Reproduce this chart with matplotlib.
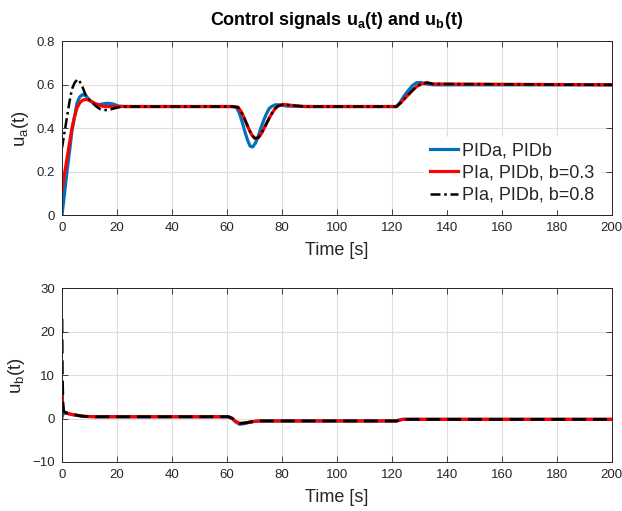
import matplotlib
matplotlib.use("Agg")
import matplotlib.pyplot as plt

plt.rcParams["font.family"] = ["Liberation Sans", "DejaVu Sans"]
plt.rcParams["mathtext.default"] = "regular"

# ---- top: u_a(t) ----
t_a_blue = [0, 1, 1.8, 2.7, 3.6, 4.5, 5.5, 6.5, 7.6, 8.8, 10.3, 11.5, 12.7, 14, 15.5, 17, 18.5, 20.6, 23,
            62, 63.5, 64.5, 65.5, 66.5, 67.5, 68.4, 69.3, 70.3, 71.3, 72.3, 73.3, 74.3, 75.3, 76.2, 77.5, 79, 82, 90,
            121.7, 123, 124.5, 126, 127.5, 129, 130.5, 132, 135, 200]
u_a_blue = [0.0, 0.11, 0.2, 0.29, 0.386, 0.45, 0.518, 0.545, 0.556, 0.548, 0.526, 0.515, 0.51, 0.51, 0.514, 0.515, 0.512, 0.502, 0.5,
            0.5, 0.495, 0.47, 0.43, 0.385, 0.345, 0.318, 0.314, 0.33, 0.36, 0.4, 0.435, 0.465, 0.49, 0.5, 0.508, 0.508, 0.502, 0.5,
            0.5, 0.52, 0.55, 0.575, 0.597, 0.61, 0.611, 0.605, 0.6, 0.6]

t_a_red = [0, 0.9, 1.8, 2.7, 3.6, 4.5, 5.5, 6.5, 7.6, 8.8, 10, 11.5, 13, 14.5, 16, 62,
           64, 65, 66, 67, 68, 69, 70, 70.5, 71.5, 72.5, 73.5, 74.5, 75.5, 76.5, 77.5, 78.5, 80.5, 83, 88,
           121.7, 123, 124.5, 126, 127.5, 129, 130.5, 132.6, 135, 200]
u_a_red = [0.11, 0.19, 0.26, 0.33, 0.4, 0.45, 0.495, 0.518, 0.53, 0.533, 0.528, 0.518, 0.508, 0.502, 0.5, 0.5,
           0.497, 0.48, 0.455, 0.425, 0.395, 0.37, 0.355, 0.353, 0.358, 0.375, 0.4, 0.425, 0.45, 0.472, 0.49, 0.502, 0.51, 0.506, 0.5,
           0.5, 0.515, 0.535, 0.555, 0.575, 0.592, 0.603, 0.61, 0.604, 0.6]

t_a_black = [0, 0.9, 1.8, 2.7, 3.6, 4.6, 5.7, 7, 8.5, 10, 11, 12.5, 14, 15.2, 16.4, 18, 20, 22, 62,
             64, 65, 66, 67, 68, 69, 70, 70.5, 71.5, 72.5, 73.5, 74.5, 75.5, 76.5, 77.5, 78.5, 80.5, 83, 88,
             121.7, 123, 124.5, 126, 127.5, 129, 130.5, 132.6, 135, 200]
u_a_black = [0.31, 0.38, 0.45, 0.52, 0.58, 0.61, 0.626, 0.605, 0.556, 0.53, 0.518, 0.5, 0.487, 0.484, 0.484, 0.488, 0.495, 0.5, 0.5,
             0.497, 0.48, 0.455, 0.425, 0.395, 0.37, 0.355, 0.353, 0.358, 0.375, 0.4, 0.425, 0.45, 0.472, 0.49, 0.502, 0.51, 0.506, 0.5,
             0.5, 0.515, 0.535, 0.555, 0.575, 0.592, 0.603, 0.61, 0.604, 0.6]

# ---- bottom: u_b(t) ----
t_b_blue = [0, 0.3, 1, 2, 3, 5, 8, 12, 60.5, 62, 63, 64.5, 66, 68, 70, 72, 121.7, 123, 124, 200]
u_b_blue = [0.3, 1.0, 1.3, 1.2, 1.0, 0.8, 0.5, 0.42, 0.42, 0.0, -0.7, -1.3, -1.2, -0.9, -0.65, -0.55, -0.55, -0.3, -0.18, -0.18]

t_b_red = [0, 0.2, 0.5, 1, 2, 3, 5, 8, 12, 60.5, 62, 63, 64.7, 66, 68, 70, 72, 121.7, 123, 124, 200]
u_b_red = [8.5, 3.0, 1.6, 1.4, 1.2, 1.0, 0.8, 0.5, 0.42, 0.42, 0.0, -0.6, -1.1, -1.05, -0.85, -0.65, -0.55, -0.55, -0.3, -0.18, -0.18]

t_b_black = [0, 0.15, 0.35, 0.6, 1, 2, 3, 5, 8, 12, 60.5, 62, 63, 64.7, 66, 68, 70, 72, 121.7, 123, 124, 200]
u_b_black = [23.0, 10.0, 3.5, 1.8, 1.5, 1.2, 1.0, 0.8, 0.5, 0.42, 0.42, 0.0, -0.6, -1.1, -1.05, -0.85, -0.65, -0.55, -0.55, -0.3, -0.18, -0.18]

labels = ["PIDa, PIDb", "PIa, PIDb, b=0.3", "PIa, PIDb, b=0.8"]
x_ticks = list(range(0, 201, 20))
ya_ticks = [0, 0.2, 0.4, 0.6, 0.8]
ya_labels = ["0", "0.2", "0.4", "0.6", "0.8"]
yb_ticks = [-10, 0, 10, 20, 30]

blue = "#0072BD"
red = "#FF0000"
txt = "#262626"

fig = plt.figure(figsize=(6.22, 5.11), dpi=100)
ax1 = fig.add_axes([0.0997, 0.579, 0.884, 0.340])
ax2 = fig.add_axes([0.0997, 0.0959, 0.884, 0.340])


def style(ax):
    ax.set_xlim(0, 200)
    ax.set_xticks(x_ticks)
    ax.grid(True, color="#dedede", linewidth=0.8)
    ax.set_axisbelow(True)
    ax.tick_params(direction="in", top=True, right=True, length=4, width=0.6,
                   labelsize=9.5, colors=txt, labelcolor=txt, pad=5)
    for s in ax.spines.values():
        s.set_color(txt)
        s.set_linewidth(0.7)
    ax.set_xlabel("Time [s]", fontsize=13, color=txt, labelpad=6)


ax1.plot(t_a_blue, u_a_blue, color=blue, lw=2.3, label=labels[0])
ax1.plot(t_a_red, u_a_red, color=red, lw=2.3, label=labels[1])
ax1.plot(t_a_black, u_a_black, color="k", lw=1.8, ls=(0, (4, 1.5, 1, 1.5)), label=labels[2])
ax1.set_ylim(0, 0.8)
ax1.set_yticks(ya_ticks)
ax1.set_yticklabels(ya_labels)
style(ax1)
ax1.set_ylabel("u$_a$(t)", fontsize=13.5, color=txt, labelpad=4)
ax1.set_title("Control signals u$_a$(t) and u$_b$(t)", fontsize=13, fontweight="bold", pad=12)
leg = ax1.legend(loc="lower right", bbox_to_anchor=(0.991, -0.008), fontsize=13, frameon=True,
                 fancybox=False, edgecolor="white", framealpha=1, handlelength=1.6,
                 handletextpad=0.2, borderaxespad=0.4, labelspacing=0.3, borderpad=0.3)
for t in leg.get_texts():
    t.set_color(txt)

ax2.plot(t_b_blue, u_b_blue, color=blue, lw=2.3)
ax2.plot(t_b_red, u_b_red, color=red, lw=2.3)
ax2.plot(t_b_black, u_b_black, color="k", lw=2.0, ls=(0, (5, 2.5)))
ax2.set_ylim(-10, 30)
ax2.set_yticks(yb_ticks)
style(ax2)
ax2.set_ylabel("u$_b$(t)", fontsize=13.5, color=txt, labelpad=4)

fig.savefig("out.png", dpi=100)
